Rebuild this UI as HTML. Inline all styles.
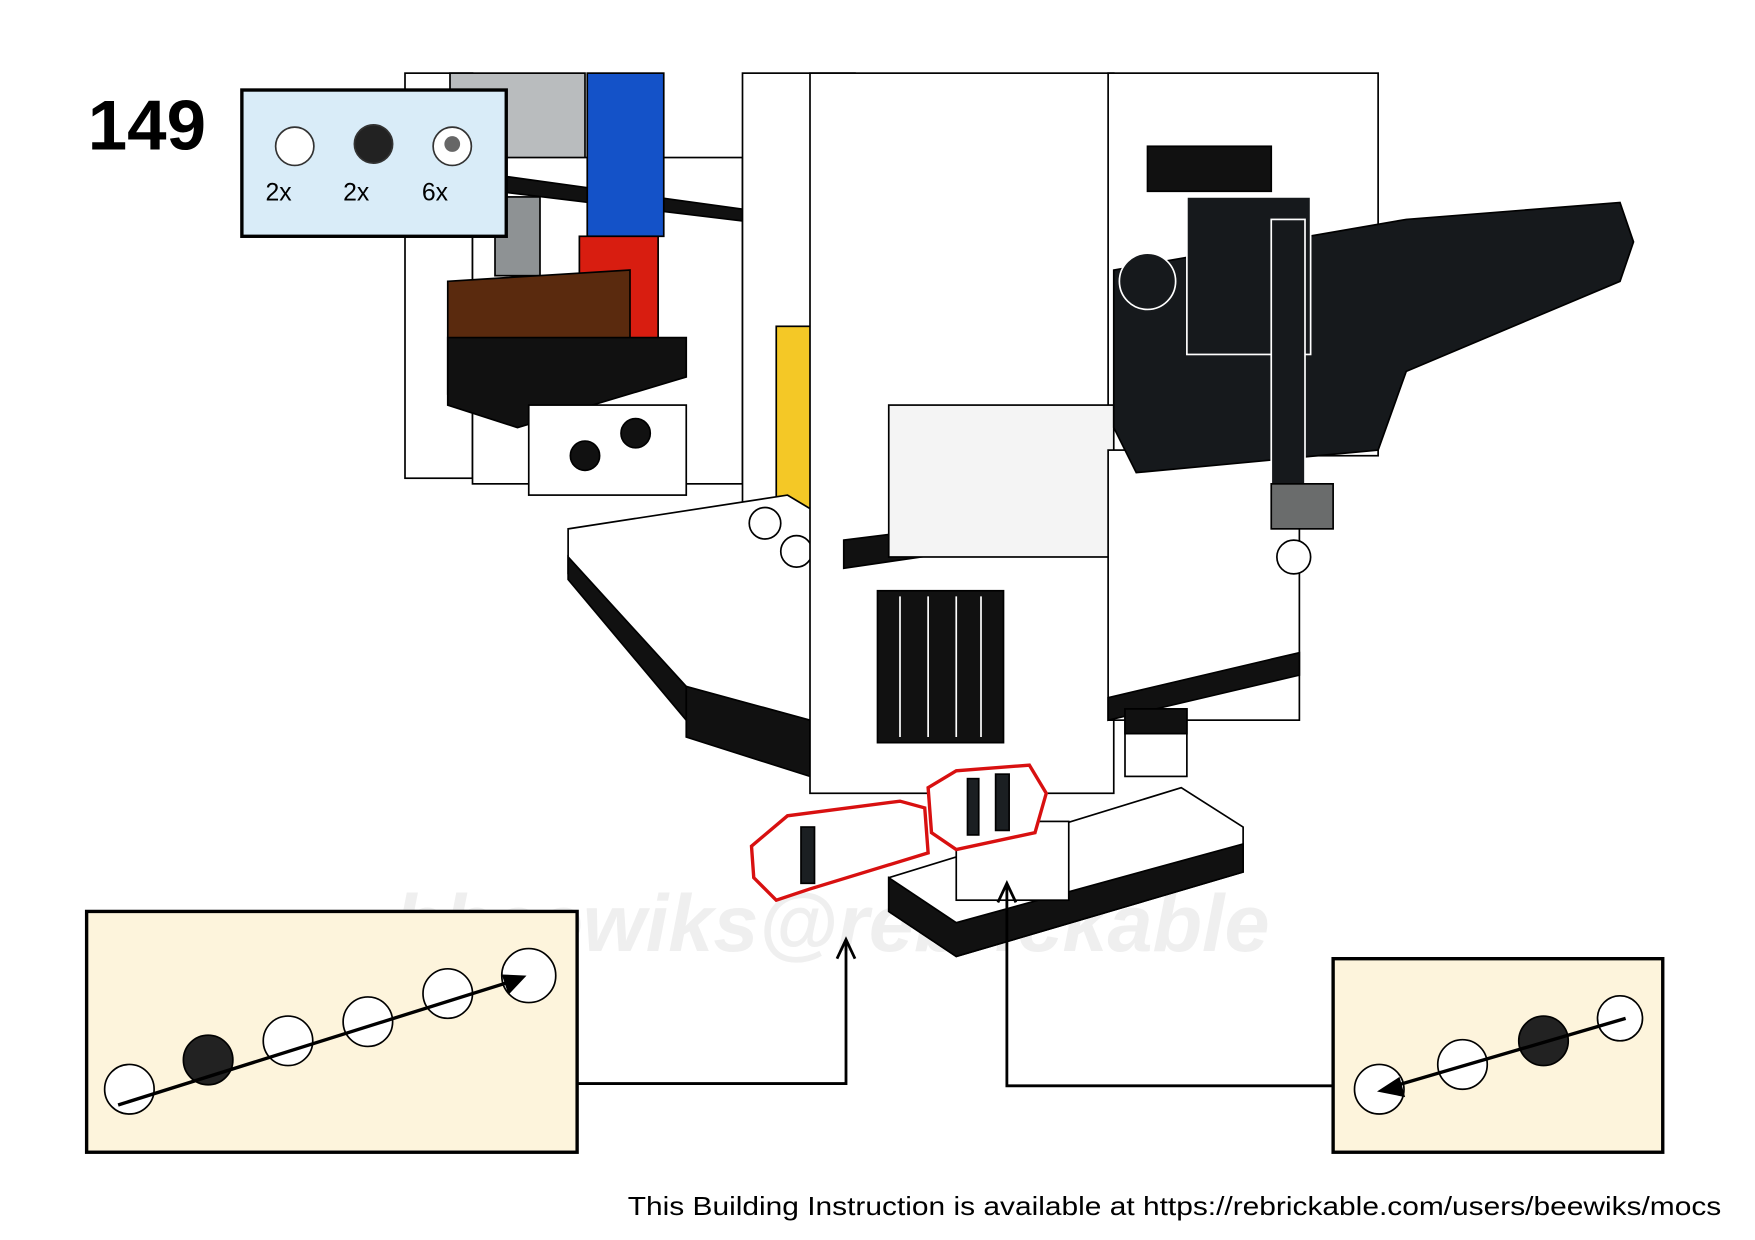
<!DOCTYPE html>
<html><head><style>html,body{margin:0;padding:0;background:#fff}svg{display:block}</style></head><body>
<svg width="1755" height="1240" viewBox="0 0 1560 1102" preserveAspectRatio="none" xmlns="http://www.w3.org/2000/svg" font-family="Liberation Sans, sans-serif">
<rect width="1560" height="1102" fill="#fff"/>
<text x="350" y="845" font-size="72" font-style="italic" font-weight="bold" fill="#efefef">bbeewiks@rebrickable</text>
<g stroke="#000" stroke-width="1.5">
<rect x="360" y="65" width="60" height="360" fill="#fff"/>
<rect x="400" y="65" width="120" height="90" fill="#b9bcbe"/>
<rect x="420" y="140" width="240" height="290" fill="#fff"/>
<polygon points="400,150 690,190 690,200 400,165" fill="#111"/>
<rect x="522" y="65" width="68" height="145" fill="#1452c8"/>
<rect x="440" y="175" width="40" height="70" fill="#8e9294"/>
<rect x="515" y="210" width="70" height="95" fill="#d81d10"/>
<polygon points="398,250 560,240 560,345 398,350" fill="#5a2a0e"/>
<polygon points="398,300 610,300 610,335 460,380 398,360" fill="#111"/>
<rect x="470" y="360" width="140" height="80" fill="#fff"/>
<circle cx="520" cy="405" r="13" fill="#111"/><circle cx="565" cy="385" r="13" fill="#111"/>
<rect x="660" y="65" width="100" height="440" fill="#fff"/>
<rect x="690" y="290" width="60" height="205" fill="#f4c826"/>
<polygon points="505,470 700,440 750,470 750,690 610,630 505,510" fill="#fff"/>
<polygon points="505,495 610,610 750,680 750,700 610,640 505,515" fill="#111"/>
<polygon points="610,610 720,640 720,690 610,655" fill="#111"/>
<circle cx="680" cy="465" r="14" fill="#fff"/><circle cx="708" cy="490" r="14" fill="#fff"/><circle cx="736" cy="515" r="14" fill="#fff"/>
<rect x="720" y="65" width="270" height="640" fill="#fff"/>
<rect x="985" y="65" width="240" height="340" fill="#fff"/>
<polygon points="750,480 990,450 990,470 750,505" fill="#111"/>
<rect x="790" y="360" width="200" height="135" fill="#f4f4f4"/>
<rect x="1020" y="130" width="110" height="40" fill="#111"/>
<rect x="780" y="525" width="112" height="135" fill="#111"/>
<line x1="800" y1="530" x2="800" y2="655" stroke="#fff"/><line x1="825" y1="530" x2="825" y2="655" stroke="#fff"/><line x1="850" y1="530" x2="850" y2="655" stroke="#fff"/><line x1="872" y1="530" x2="872" y2="655" stroke="#fff"/>
<rect x="985" y="400" width="170" height="240" fill="#fff"/>
<polygon points="985,620 1155,580 1155,600 985,640" fill="#111"/>
<rect x="1000" y="630" width="55" height="60" fill="#fff"/>
<rect x="1000" y="630" width="55" height="22" fill="#111"/>
<polygon points="990,240 1250,195 1440,180 1452,215 1440,250 1250,330 1225,400 1010,420 990,380" fill="#16191c"/>
<rect x="1055" y="175" width="110" height="140" fill="#16191c" stroke="#fff"/>
<rect x="1130" y="195" width="30" height="240" fill="#16191c" stroke="#fff"/>
<rect x="1130" y="430" width="55" height="40" fill="#6a6c6c"/>
<circle cx="1020" cy="250" r="25" fill="#16191c" stroke="#fff"/>
<circle cx="1150" cy="495" r="15" fill="#fff"/>
<polygon points="790,780 1050,700 1105,735 1105,775 850,850 790,810" fill="#fff"/>
<polygon points="790,780 850,820 1105,750 1105,775 850,850 790,810" fill="#111"/>
<rect x="850" y="730" width="100" height="70" fill="#fff"/>
</g>
<g stroke="#d81010" stroke-width="3" fill="#fff">
<polygon points="668,752 700,725 800,712 822,718 825,758 720,790 690,800 670,780"/>
<polygon points="825,700 850,685 915,680 930,705 920,740 850,755 828,740"/>
</g>
<g stroke="#000" stroke-width="1.5" fill="#1b1f22">
<rect x="712" y="735" width="12" height="50"/><rect x="885" y="688" width="12" height="50"/><rect x="860" y="692" width="10" height="50"/>
</g>
<text x="78" y="133" font-size="63" font-weight="bold">149</text>
<rect x="215" y="80" width="235" height="130" fill="#d9ecf8" stroke="#000" stroke-width="3"/>
<circle cx="262" cy="130" r="17" fill="#fff" stroke="#333" stroke-width="1.5"/>
<circle cx="332" cy="128" r="17" fill="#222" stroke="#333" stroke-width="1.5"/>
<circle cx="402" cy="130" r="17" fill="#fff" stroke="#333" stroke-width="1.5"/>
<circle cx="402" cy="128" r="7" fill="#666"/>
<text x="236" y="178" font-size="22">2x</text><text x="305" y="178" font-size="22">2x</text><text x="375" y="178" font-size="22">6x</text>
<rect x="77" y="810" width="436" height="214" fill="#fdf4dc" stroke="#000" stroke-width="3"/>
<rect x="1185" y="852" width="293" height="172" fill="#fdf4dc" stroke="#000" stroke-width="3"/>
<g stroke="#000" stroke-width="1.5" fill="#fff">
<circle cx="115" cy="968" r="22"/><circle cx="185" cy="942" r="22" fill="#222"/><circle cx="256" cy="925" r="22"/><circle cx="327" cy="908" r="22"/><circle cx="398" cy="883" r="22"/><circle cx="470" cy="867" r="24"/>
<circle cx="1226" cy="968" r="22"/><circle cx="1300" cy="946" r="22"/><circle cx="1372" cy="925" r="22" fill="#222"/><circle cx="1440" cy="905" r="20"/>
</g>
<line x1="105" y1="982" x2="455" y2="872" stroke="#000" stroke-width="3"/>
<polygon points="468,867 446,866 452,884" fill="#000"/>
<line x1="1445" y1="905" x2="1240" y2="965" stroke="#000" stroke-width="3"/>
<polygon points="1224,970 1244,957 1249,975" fill="#000"/>
<polyline points="513,963 752,963 752,838" fill="none" stroke="#000" stroke-width="2.5"/>
<polyline points="744,852 752,835 760,852" fill="none" stroke="#000" stroke-width="2.5"/>
<polyline points="1185,965 895,965 895,788" fill="none" stroke="#000" stroke-width="2.5"/>
<polyline points="887,802 895,785 903,802" fill="none" stroke="#000" stroke-width="2.5"/>
<text x="1530" y="1080" font-size="23" text-anchor="end" textLength="972" lengthAdjust="spacingAndGlyphs">This Building Instruction is available at https://rebrickable.com/users/beewiks/mocs</text>
</svg>
</body></html>
